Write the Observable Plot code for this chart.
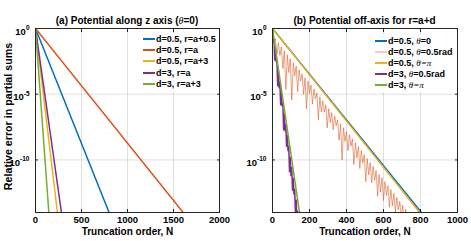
<!DOCTYPE html>
<html>
<head>
<meta charset="utf-8">
<script src="https://cdn.jsdelivr.net/npm/d3@7"></script>
<script src="https://cdn.jsdelivr.net/npm/@observablehq/plot@0.6"></script>
<style>
  html, body { margin: 0; padding: 0; background: #fff; }
  #wrap { position: relative; width: 471px; height: 241px; background: #fff; overflow: hidden;
          font-family: "Liberation Sans", Arial, Helvetica, sans-serif; font-weight: bold; color: #000; }
  .panel { position: absolute; top: 0; }
  .title { position: absolute; top: 15px; font-size: 10px; line-height: 12px; text-align: center; white-space: nowrap; }
  .legend { position: absolute; background: #fff; }
  .row { display: flex; align-items: center; height: 11.2px; font-size: 9px; white-space: nowrap; }
  .sw { display: inline-block; width: 12px; height: 2px; margin-right: 1px; }
  .m { font-family: "Liberation Serif", "Times New Roman", serif; font-style: italic; font-weight: normal; }
</style>
</head>
<body>
<div id="wrap">
  <div id="pa" class="panel" style="left:0"></div>
  <div id="pb" class="panel" style="left:236px"></div>
  <div class="title" style="left:0;width:254px">(a) Potential along z axis (<span class="m">θ</span>=0)</div>
  <div class="title" style="left:236px;width:257px">(b) Potential off-axis for r=a+d</div>
  <div id="lega" class="legend" style="left:137px;top:33.5px;width:81px;height:57px;padding-left:6px;box-sizing:border-box"></div>
  <div id="legb" class="legend" style="left:369px;top:35px;width:87px;height:57px;padding-left:6px;box-sizing:border-box"></div>
</div>
<script>
// ---- data: [truncation order N, log10(relative error)] ----
const colors = ["#0072BD", "#D95319", "#EDB120", "#7E2F8E", "#77AC30"];

const labelsA = ["d=0.5, r=a+0.5", "d=0.5, r=a", "d=0.5, r=a+3", "d=3, r=a", "d=3, r=a+3"];
const labelsB = ["d=0.5, <span class='m'>θ</span>=0", "d=0.5, <span class='m'>θ</span>=0.5rad",
                 "d=0.5, <span class='m'>θ=π</span>", "d=3, <span class='m'>θ</span>=0.5rad",
                 "d=3, <span class='m'>θ=π</span>"];

const xTicksA = [0, 500, 1000, 1500, 2000];
const xTicksB = [0, 200, 400, 600, 800, 1000];
const yTicks = [1, 1e-5, 1e-10];

// Panel (a)
const aBlue   = [[0, 0], [800, -14]];
const aOrange = [[0, 0], [1605, -14]];
const aYellow = [[0, 0], [238, -14]];
const aPurple = [[0, 0], [282, -14]];
const aGreen  = [[0, 0], [145, -14]];

// Panel (b)
const bBlue   = [[0, 0], [805, -14]];
const bOrange = [[0,0],[8,-1.0],[16,-0.8],[24,-1.95],[32,-1.1],[40,-2.05],[48,-1.4],[56,-3.05],[64,-1.7],
  [72,-4.65],[80,-2.0],[88,-3.35],[96,-2.3],[104,-5.45],[112,-2.6],[120,-3.6],[128,-2.85],[136,-4.8],
  [144,-3.15],[152,-4.0],[160,-3.45],[168,-5.0],[176,-3.75],[184,-6.1],[192,-4.0],[200,-4.95],[208,-4.3],
  [216,-5.75],[224,-4.6],[232,-5.35],[240,-4.9],[248,-6.95],[256,-5.2],[264,-6.35],[272,-5.5],[280,-6.35],
  [288,-5.8],[296,-7.55],[304,-6.1],[312,-7.15],[320,-6.4],[328,-7.7],[336,-6.65],[344,-7.4],[352,-6.95],
  [360,-8.5],[368,-7.25],[376,-10.0],[384,-7.55],[392,-8.6],[400,-7.85],[408,-9.3],[416,-8.1],[424,-8.95],
  [432,-8.4],[440,-10.35],[448,-8.7],[456,-9.85],[464,-9.0],[472,-10.65],[480,-9.3],[488,-10.25],[496,-9.6],
  [504,-11.65],[512,-9.9],[520,-11.15],[528,-10.2],[536,-11.75],[544,-10.5],[552,-11.55],[560,-10.8],
  [568,-12.75],[576,-11.1],[584,-12.45],[592,-11.35],[600,-13.1],[608,-11.65],[616,-12.7],[624,-11.95],
  [632,-13.6],[640,-12.25],[648,-13.5],[656,-12.55],[664,-14.0],[672,-12.85],[680,-13.8],[688,-13.15],
  [696,-14.5],[704,-13.45],[712,-14.6],[720,-13.75],[728,-14.7],[736,-14.05]];
const bYellow = [[0, 0], [795, -14]];
const bPurple = [[0,0],[4,-1.0],[8,-0.8],[12,-2.4],[16,-1.6],[20,-2.5],[24,-2.45],[28,-4.35],[32,-3.25],
  [36,-4.5],[40,-4.1],[44,-5.8],[48,-4.9],[52,-5.9],[56,-5.7],[60,-7.7],[64,-6.5],[68,-7.8],[72,-7.35],
  [76,-8.95],[80,-8.15],[84,-9.3],[88,-9.0],[92,-10.9],[96,-9.8],[100,-11.2],[104,-10.6],[108,-12.3],
  [112,-11.4],[116,-12.6],[120,-12.25],[124,-14.05],[128,-13.05],[132,-14.6],[136,-13.9],[140,-15.3],[144,-14.7]];
const bGreen  = [[0, 0], [146, -14]];

// ---- build ----
const rows = (pairs) => pairs.map(([N, e]) => ({N, err: Math.pow(10, e)}));

function panel({width, marginLeft, marginRight, xDomain, xTicks, series, opacities, widths, ylabel}) {
  const marks = [
    Plot.gridX(xTicks, {stroke: "#000", strokeOpacity: 0.12}),
    Plot.gridY(yTicks, {stroke: "#000", strokeOpacity: 0.12}),
    ...series.map((s, i) => Plot.line(rows(s), {
      x: "N", y: "err", stroke: colors[i], strokeWidth: widths[i],
      strokeOpacity: opacities[i], clip: true
    })),
    Plot.frame({stroke: "#262626", strokeWidth: 1}),
    Plot.axisX(xTicks, {anchor: "bottom", tickSize: -3, tickFormat: () => "", label: null, stroke: "#262626"}),
    Plot.axisX(xTicks, {anchor: "top", tickSize: -3, tickFormat: () => "", label: null, stroke: "#262626"}),
    Plot.axisY(yTicks, {anchor: "left", tickSize: -3, tickFormat: () => "", label: null, stroke: "#262626"}),
    Plot.axisY(yTicks, {anchor: "right", tickSize: -3, tickFormat: () => "", label: null, stroke: "#262626"}),
    Plot.axisX(xTicks, {anchor: "bottom", tickSize: 0, tickPadding: 4, fontSize: 9.5, label: null,
      tickFormat: d => String(d)}),
    Plot.axisY(yTicks, {anchor: "left", tickSize: 0, tickPadding: 6, fontSize: 9.5, dy: 3, label: null,
      tickFormat: d => "10^" + Math.round(Math.log10(d))}),
    Plot.text(["Truncation order, N"], {frameAnchor: "bottom", dy: 22, fontSize: 10, fontWeight: "bold",
      textAnchor: "middle"})
  ];
  if (ylabel) marks.push(Plot.text([ylabel], {frameAnchor: "left", textAnchor: "middle", rotate: -90,
    dx: -27, dy: -4, fontSize: 10.7, fontWeight: "bold"}));
  const svg = Plot.plot({
    width, height: 241, marginLeft, marginRight, marginTop: 28, marginBottom: 29,
    x: {domain: xDomain},
    y: {type: "log", domain: [1e-14, 1]},
    style: {fontFamily: "'Liberation Sans', Arial, sans-serif", fontWeight: "bold", background: "transparent",
            overflow: "visible", color: "#000"},
    marks
  });
  // superscript exponents
  svg.querySelectorAll('g[aria-label="y-axis tick label"] text').forEach(t => {
    const s = t.textContent;
    if (!s.includes("^")) return;
    const [b, e] = s.split("^");
    t.textContent = "";
    const ns = "http://www.w3.org/2000/svg";
    const t1 = document.createElementNS(ns, "tspan"); t1.textContent = b;
    const t2 = document.createElementNS(ns, "tspan"); t2.textContent = e;
    t2.setAttribute("dy", "-4.5"); t2.setAttribute("font-size", "6.5");
    t.appendChild(t1); t.appendChild(t2);
  });
  return svg;
}

document.getElementById("pa").appendChild(panel({
  width: 236, marginLeft: 35, marginRight: 17, xDomain: [0, 2000], xTicks: xTicksA,
  series: [aBlue, aOrange, aYellow, aPurple, aGreen],
  opacities: [1, 1, 1, 1, 1], widths: [1.5, 1.5, 1.5, 1.5, 1.5],
  ylabel: "Relative error in partial sums"
}));
document.getElementById("pb").appendChild(panel({
  width: 235, marginLeft: 36, marginRight: 14, xDomain: [0, 1000], xTicks: xTicksB,
  series: [bBlue, bOrange, bYellow, bPurple, bGreen],
  opacities: [1, 0.55, 1, 1, 1], widths: [1.5, 1, 1.5, 1.5, 1.5]
}));

function legend(id, labels, swatchColors) {
  const el = document.getElementById(id);
  labels.forEach((lab, i) => {
    const r = document.createElement("div"); r.className = "row";
    const sw = document.createElement("span"); sw.className = "sw"; sw.style.background = swatchColors[i];
    const tx = document.createElement("span"); tx.innerHTML = lab;
    r.appendChild(sw); r.appendChild(tx); el.appendChild(r);
  });
}
legend("lega", labelsA, colors);
legend("legb", labelsB, [colors[0], "rgba(217,83,25,0.3)", colors[2], colors[3], colors[4]]);
</script>
</body>
</html>
